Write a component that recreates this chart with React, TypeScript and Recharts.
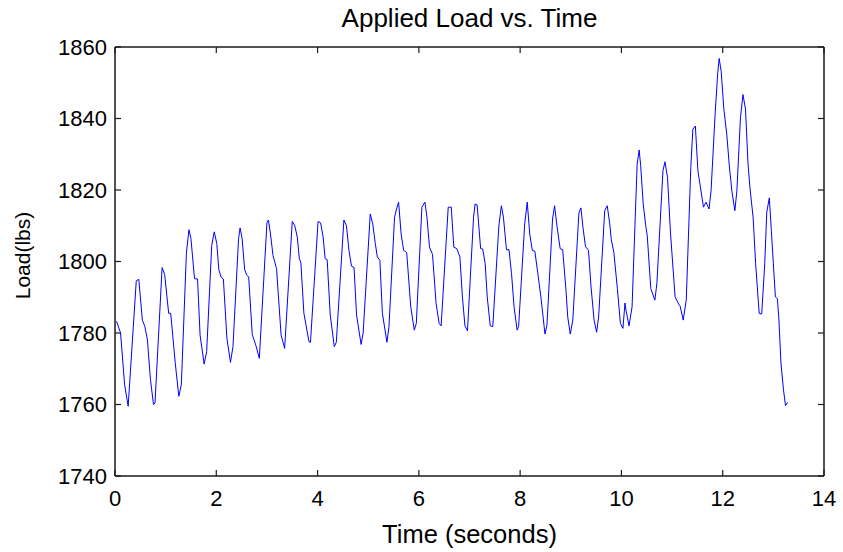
import { LineChart, Line, XAxis, YAxis } from 'recharts';

// time (s) and load (lbs)
const times = [
  0.03, 0.11, 0.19, 0.26, 0.42, 0.47, 0.54, 0.59, 0.64, 0.7, 0.76, 0.79,
  0.93, 0.98, 1.06, 1.1, 1.19, 1.26, 1.31,
  1.41, 1.46, 1.5, 1.57, 1.63, 1.68, 1.76, 1.81,
  1.91, 1.96, 2.01, 2.05, 2.1, 2.14, 2.21, 2.28, 2.33,
  2.44, 2.47, 2.51, 2.56, 2.6, 2.64, 2.71, 2.78, 2.85,
  3.0, 3.03, 3.07, 3.12, 3.19, 3.28, 3.32, 3.35,
  3.5, 3.55, 3.6, 3.64, 3.67, 3.73, 3.83, 3.86,
  4.01, 4.06, 4.11, 4.15, 4.19, 4.25, 4.33, 4.37,
  4.52, 4.57, 4.62, 4.67, 4.72, 4.77, 4.86, 4.9,
  5.04, 5.09, 5.14, 5.18, 5.23, 5.28, 5.37, 5.41,
  5.52, 5.56, 5.6, 5.65, 5.7, 5.76, 5.84, 5.91, 5.95,
  6.06, 6.12, 6.16, 6.21, 6.27, 6.34, 6.4, 6.44,
  6.58, 6.64, 6.69, 6.75, 6.81, 6.86, 6.91, 6.96,
  7.08, 7.11, 7.15, 7.22, 7.26, 7.31, 7.35, 7.41, 7.46,
  7.58, 7.63, 7.67, 7.73, 7.78, 7.83, 7.88, 7.94, 7.97,
  8.09, 8.14, 8.19, 8.24, 8.29, 8.35, 8.41, 8.49, 8.53,
  8.64, 8.68, 8.73, 8.79, 8.84, 8.9, 8.94, 8.99, 9.04,
  9.16, 9.2, 9.24, 9.29, 9.35, 9.4, 9.46, 9.51, 9.55,
  9.67, 9.72, 9.77, 9.8, 9.85, 9.92, 9.98, 10.03, 10.07, 10.09, 10.15, 10.21,
  10.31, 10.35, 10.38, 10.43, 10.48, 10.51, 10.58, 10.66, 10.7,
  10.82, 10.86, 10.91, 10.97, 11.06, 11.13, 11.16, 11.22, 11.28,
  11.37, 11.41, 11.46, 11.51, 11.55, 11.62, 11.67, 11.73, 11.77,
  11.85, 11.9, 11.93, 11.97, 12.02, 12.08, 12.13, 12.18, 12.24, 12.28,
  12.35, 12.4, 12.45, 12.5, 12.54, 12.6, 12.65, 12.72, 12.77,
  12.83, 12.87, 12.92, 12.96, 13.0, 13.04, 13.08, 13.11, 13.15, 13.2, 13.24, 13.28,
];

const loads = [
  1783.3, 1780, 1765.5, 1759.5, 1794.6, 1795, 1783.6, 1781.8, 1778.1, 1767, 1760, 1760.4,
  1798.3, 1796.4, 1785.5, 1785.5, 1771.6, 1762.3, 1765.5,
  1802.4, 1808.9, 1806.4, 1795.2, 1795.1, 1779.4, 1771.3, 1774.8,
  1804.5, 1808.3, 1805, 1797.7, 1795.5, 1795.1, 1778.5, 1771.8, 1776.2,
  1806.4, 1809.4, 1806.4, 1797.8, 1796.2, 1795.7, 1779.6, 1776.6, 1772.9,
  1810.8, 1811.6, 1807.7, 1801.7, 1798, 1779.4, 1777.3, 1775.7,
  1811.2, 1810, 1806.8, 1800.8, 1799.7, 1785.5, 1777.6, 1777.4,
  1811.2, 1810.8, 1806.8, 1800.8, 1800.5, 1785, 1776.2, 1777.4,
  1811.6, 1810, 1803.1, 1798.7, 1798.3, 1785, 1776.8, 1780,
  1813.3, 1810.5, 1805, 1801.3, 1800.3, 1785.5, 1777.4, 1781.8,
  1812.4, 1814.7, 1816.6, 1807.7, 1803.1, 1802.5, 1787.3, 1780.8, 1782.7,
  1815.2, 1816.6, 1812.4, 1804, 1802, 1788.3, 1782.7, 1782,
  1815.2, 1815.2, 1804, 1803.6, 1801.3, 1790.1, 1782, 1780.6,
  1812.4, 1816.1, 1815.8, 1803.6, 1803.5, 1799.4, 1790.1, 1782, 1781.8,
  1810, 1815.6, 1812.4, 1803.3, 1803.3, 1796.6, 1787.3, 1780.8, 1781.8,
  1810.5, 1816.6, 1807.7, 1803.1, 1802.9, 1796.6, 1790.1, 1779.7, 1782.2,
  1811.9, 1815.6, 1809.6, 1803.6, 1803.3, 1792.9, 1784.5, 1779.7, 1783.6,
  1813.5, 1815, 1809.6, 1804.2, 1803.1, 1792.9, 1783.6, 1780.2, 1784.5,
  1814.2, 1815.6, 1810.5, 1806.1, 1802.6, 1792.4, 1782.7, 1781.3, 1788.4, 1786.4, 1782, 1787.3,
  1827.2, 1831.2, 1826.8, 1816.1, 1810, 1807.2, 1792.4, 1789.2, 1793.8,
  1825.4, 1827.9, 1823.5, 1807.7, 1790.1, 1788.1, 1787.5, 1783.6, 1789.2,
  1826.3, 1837, 1837.9, 1825.4, 1821.7, 1815.2, 1816.6, 1814.7, 1819.8,
  1841.2, 1852.5, 1856.8, 1853.2, 1843, 1835.6, 1826.8, 1819.8, 1814.2, 1819.8,
  1840.2, 1846.7, 1842.6, 1827.2, 1820.3, 1812.4, 1799.4, 1785.5, 1785.3,
  1799.4, 1813.8, 1817.8, 1808.7, 1799.4, 1790.1, 1789.6, 1783.6, 1771.6, 1764.1, 1759.7, 1760.6,
];

const xTicks = [0, 2, 4, 6, 8, 10, 12, 14];
const yTicks = [1740, 1760, 1780, 1800, 1820, 1840, 1860];

const data = times.map((t, i) => ({ t, load: loads[i] }));

const FONT = '"Liberation Sans", Arial, Helvetica, sans-serif';
const AXIS = '#1a1a1a';

// shared props for the mirrored "box" axes: inward ticks, no labels
const boxLine = { stroke: AXIS, strokeWidth: 1.5 };
const boxTick = { stroke: AXIS, strokeWidth: 1.2 };
const noLabel = () => <g />;

export default function App() {
  return (
    <div style={{ position: 'absolute', left: 0, top: 0, width: 843, height: 552, background: '#fff', fontFamily: FONT }}>
      <div
        style={{
          position: 'absolute', left: 115, width: 709, top: 3, textAlign: 'center',
          fontSize: 26, color: '#000', lineHeight: '30px',
        }}
      >
        Applied Load vs. Time
      </div>
      <LineChart width={843} height={552} data={data} margin={{ top: 47, right: 19, bottom: 16, left: 0 }}>
        {/* labelled axes (outside the box) */}
        <XAxis
          dataKey="t"
          type="number"
          domain={[0, 14]}
          ticks={xTicks}
          allowDataOverflow
          height={60}
          tickSize={0}
          tickMargin={14}
          axisLine={false}
          tickLine={false}
          tick={{ fill: '#000', fontSize: 22, fontFamily: FONT }}
          label={{
            content: (p: any) => (
              <text x={p.viewBox.x + p.viewBox.width / 2} y={543} textAnchor="middle" fontSize={25.5} fontFamily={FONT} fill="#000">
                Time (seconds)
              </text>
            ),
          }}
        />
        <YAxis
          type="number"
          domain={[1740, 1860]}
          ticks={yTicks}
          allowDataOverflow
          width={115}
          tickSize={0}
          tickMargin={8}
          axisLine={false}
          tickLine={false}
          tick={{ fill: '#000', fontSize: 22, fontFamily: FONT }}
          label={{
            content: (p: any) => {
              const cy = p.viewBox.y + p.viewBox.height / 2 - 6;
              return (
                <text x={30} y={cy} transform={`rotate(-90 30 ${cy})`} textAnchor="middle" fontSize={21} fontFamily={FONT} fill="#000">
                  Load(lbs)
                </text>
              );
            },
          }}
        />
        {/* box frame with inward ticks on all four sides */}
        <XAxis xAxisId="bbox" orientation="bottom" mirror dataKey="t" type="number" domain={[0, 14]} ticks={xTicks}
          allowDataOverflow tickSize={6} tick={noLabel} axisLine={boxLine} tickLine={boxTick} />
        <XAxis xAxisId="tbox" orientation="top" mirror dataKey="t" type="number" domain={[0, 14]} ticks={xTicks}
          allowDataOverflow tickSize={6} tick={noLabel} axisLine={boxLine} tickLine={boxTick} />
        <YAxis yAxisId="lbox" orientation="left" mirror type="number" domain={[1740, 1860]} ticks={yTicks}
          allowDataOverflow tickSize={6} tick={noLabel} axisLine={boxLine} tickLine={boxTick} />
        <YAxis yAxisId="rbox" orientation="right" mirror type="number" domain={[1740, 1860]} ticks={yTicks}
          allowDataOverflow tickSize={6} tick={noLabel} axisLine={boxLine} tickLine={boxTick} />
        <Line
          type="linear"
          dataKey="load"
          stroke="#0000ff"
          strokeWidth={1}
          dot={false}
          isAnimationActive={false}
        />
      </LineChart>
    </div>
  );
}
